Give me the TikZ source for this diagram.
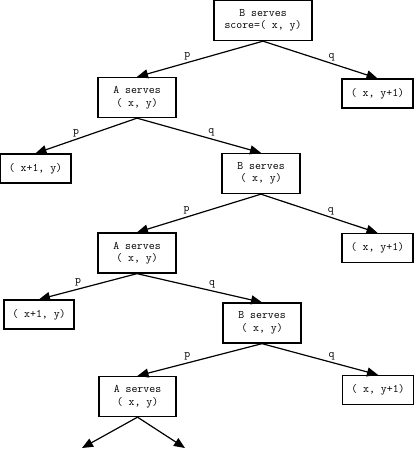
\documentclass[tikz,border=0pt]{standalone}
\usepackage{tikz}
\usetikzlibrary{arrows.meta, positioning}

\begin{document}
\begin{tikzpicture}[x=1pt, y=-1pt, every node/.style={font=\ttfamily\fontsize{11.5}{12.5}\selectfont}]
    % Styles
    \tikzstyle{state} = [rectangle, draw=black, line width=1.3pt, minimum width=78pt, minimum height=40pt, align=center, inner sep=2pt]
    \tikzstyle{leaf} = [rectangle, draw=black, line width=1.3pt, minimum width=71pt, minimum height=29pt, align=center, inner sep=2pt]
    \tikzstyle{branch} = [-{Triangle[length=11pt, width=9pt]}, line width=1.2pt]
    \tikzstyle{prob} = [pos=0.6, above=1pt, inner sep=1pt]

    \useasboundingbox (0,0) rectangle (420,451);

    % States
    \node[state, minimum width=98pt] (root) at (263,20.5) {B serves\\score=( x, y)};
    \node[leaf] (bwin1) at (377.5,93.5) {( x, y+1)};
    \node[state] (aserve1) at (137,97.5) {A serves\\( x, y)};
    \node[leaf] (awin1) at (35.5,168.5) {( x+1, y)};
    \node[state] (bserve1) at (261,173.5) {B serves\\( x, y)};
    \node[leaf] (bwin2) at (377.5,248) {( x, y+1)};
    \node[state] (aserve2) at (137,253) {A serves\\( x, y)};
    \node[leaf, minimum width=70pt] (awin2) at (39,314.5) {( x+1, y)};
    \node[state] (bserve2) at (262,323) {B serves\\( x, y)};
    \node[leaf] (bwin3) at (378,390) {( x, y+1)};
    \node[state, minimum width=77pt] (aserve3) at (137.5,396.5) {A serves\\( x, y)};
    \coordinate (more1) at (82,448);
    \coordinate (more2) at (185,448);

    % Branches
    \draw[branch] (root.south) -- node[prob] {p} (aserve1.north);
    \draw[branch] (root.south) -- node[prob] {q} (bwin1.north);
    \draw[branch] (aserve1.south) -- node[prob] {p} (awin1.north);
    \draw[branch] (aserve1.south) -- node[prob] {q} (bserve1.north);
    \draw[branch] (bserve1.south) -- node[prob] {p} (aserve2.north);
    \draw[branch] (bserve1.south) -- node[prob] {q} (bwin2.north);
    \draw[branch] (aserve2.south) -- node[prob] {p} (awin2.north);
    \draw[branch] (aserve2.south) -- node[prob] {q} (bserve2.north);
    \draw[branch] (bserve2.south) -- node[prob] {p} (aserve3.north);
    \draw[branch] (bserve2.south) -- node[prob] {q} (bwin3.north);
    \draw[branch] (aserve3.south) -- (more1);
    \draw[branch] (aserve3.south) -- (more2);
\end{tikzpicture}
\end{document}
